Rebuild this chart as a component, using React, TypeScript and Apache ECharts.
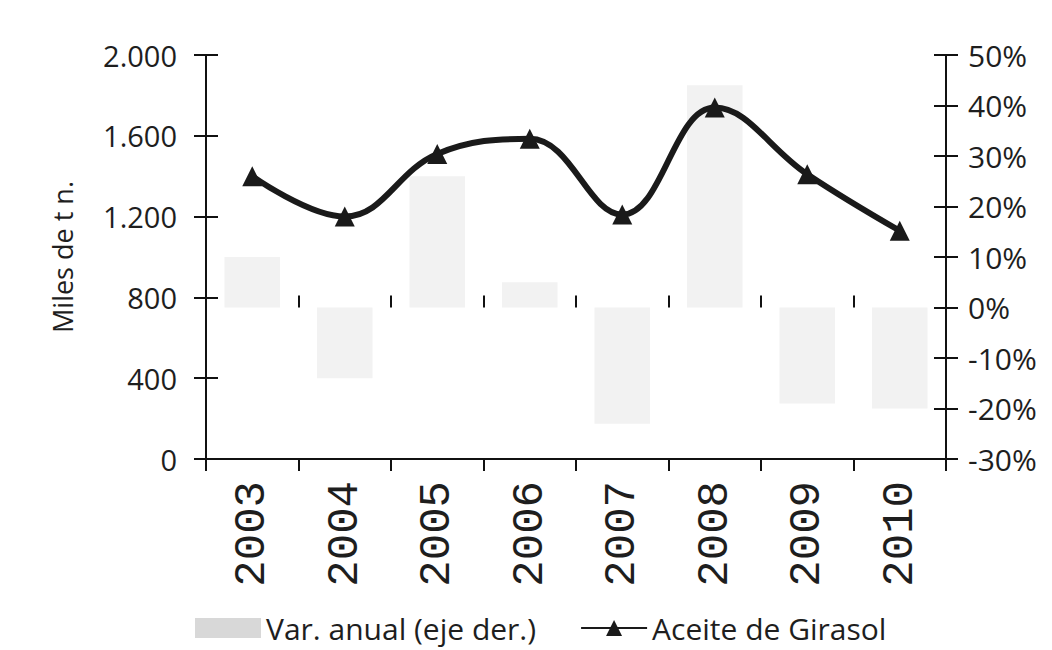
import React, { useEffect, useRef } from "react";
import * as echarts from "echarts";

const years = ["2003", "2004", "2005", "2006", "2007", "2008", "2009", "2010"];
const aceiteGirasol = [1400, 1200, 1510, 1585, 1210, 1740, 1410, 1130];
const varAnual = [10, -14, 26, 5, -23, 44, -19, -20];
const leftTicks = { min: 0, max: 2000, interval: 400 };
const rightTicks = { min: -30, max: 50, interval: 10 };

const TXT = "#1e1e1e";
const FONT = "'Open Sans', sans-serif";

function fmtMiles(v: number): string {
  return String(v).replace(/\B(?=(\d{3})+(?!\d))/g, ".");
}

export default function App() {
  const ref = useRef<HTMLDivElement>(null);
  useEffect(() => {
    if (!ref.current) return;
    const chart = echarts.init(ref.current, undefined, { renderer: "svg" });
    const axisLine = { show: true, lineStyle: { color: "#111", width: 2 } };
    const tickOut = { show: true, length: 12, lineStyle: { color: "#111", width: 2 } };
    const tickIn = { show: true, inside: true, length: 12, lineStyle: { color: "#111", width: 2 } };
    chart.setOption({
      animation: false,
      backgroundColor: "#ffffff",
      grid: { left: 206, right: 106, top: 55, bottom: 191, containLabel: false },
      legend: {
        left: 190,
        top: 606,
        itemGap: 44,
        itemWidth: 66,
        itemHeight: 20,
        textStyle: { fontFamily: FONT, fontSize: 30, color: TXT, lineHeight: 34 },
        data: [
          { name: "Var. anual (eje der.)", icon: "rect", itemStyle: { color: "#d8d8d8" } },
          { name: "Aceite de Girasol" },
        ],
      },
      xAxis: [
        {
          type: "category",
          data: years,
          boundaryGap: true,
          axisLine,
          axisTick: tickOut,
          axisLabel: {
            rotate: 90,
            margin: 22,
            fontFamily: "'Liberation Mono', monospace",
            fontSize: 44,
            color: TXT,
          },
          splitLine: { show: false },
        },
        {
          type: "category",
          data: years,
          boundaryGap: true,
          position: "bottom",
          axisLine: { show: false },
          axisTick: tickIn,
          axisLabel: { show: false },
          splitLine: { show: false },
        },
      ],
      yAxis: [
        {
          type: "value",
          position: "left",
          ...leftTicks,
          name: "Miles de t n.",
          nameLocation: "middle",
          nameGap: 130,
          nameRotate: 90,
          nameTextStyle: { fontFamily: FONT, fontSize: 27, color: TXT },
          axisLine,
          axisTick: tickOut,
          axisLabel: {
            margin: 29,
            fontFamily: FONT,
            fontSize: 29,
            color: TXT,
            formatter: (v: number) => fmtMiles(v),
          },
          splitLine: { show: false },
        },
        {
          type: "value",
          position: "right",
          ...rightTicks,
          axisLine,
          axisTick: tickOut,
          axisLabel: {
            margin: 22,
            fontFamily: FONT,
            fontSize: 30,
            color: TXT,
            formatter: "{value}%",
          },
          splitLine: { show: false },
        },
        {
          type: "value",
          position: "left",
          ...leftTicks,
          axisLine: { show: false },
          axisTick: tickIn,
          axisLabel: { show: false },
          splitLine: { show: false },
        },
        {
          type: "value",
          position: "right",
          ...rightTicks,
          axisLine: { show: false },
          axisTick: tickIn,
          axisLabel: { show: false },
          splitLine: { show: false },
        },
      ],
      series: [
        {
          name: "Var. anual (eje der.)",
          type: "bar",
          xAxisIndex: 0,
          yAxisIndex: 1,
          data: varAnual,
          barWidth: "60%",
          itemStyle: { color: "#f2f2f2" },
          z: 1,
        },
        {
          name: "Aceite de Girasol",
          type: "line",
          xAxisIndex: 0,
          yAxisIndex: 0,
          data: aceiteGirasol,
          smooth: 0.4,
          symbol: "triangle",
          symbolSize: 20,
          lineStyle: { color: "#1a1a1a", width: 6 },
          itemStyle: { color: "#1a1a1a" },
          z: 3,
        },
      ],
    });
    return () => chart.dispose();
  }, []);
  return (
    <div
      ref={ref}
      style={{ position: "fixed", left: 0, top: 0, width: 1052, height: 650 }}
    />
  );
}
